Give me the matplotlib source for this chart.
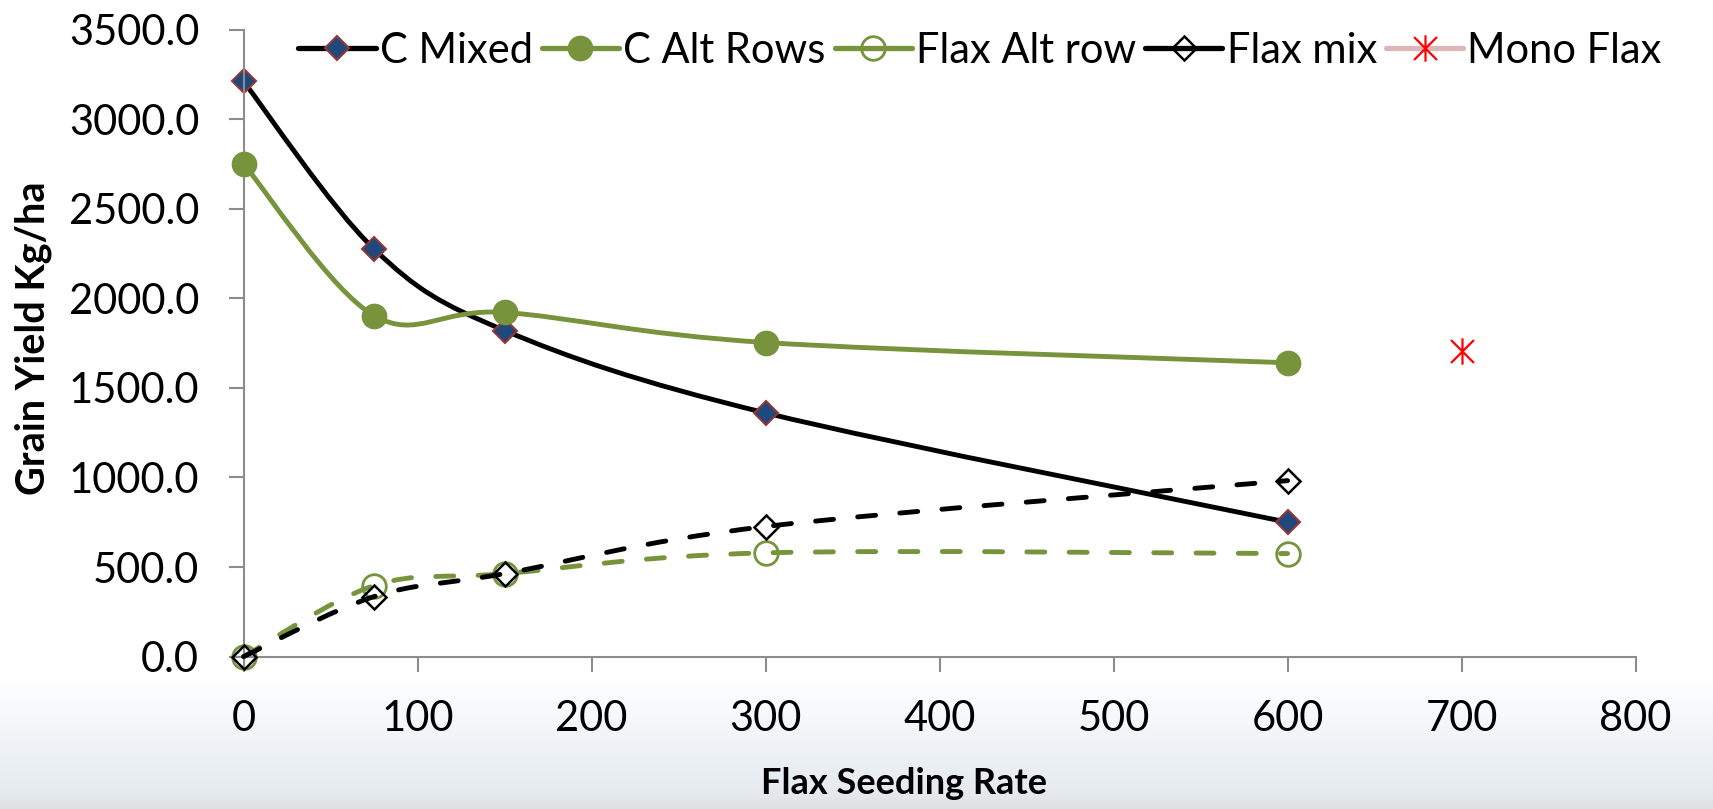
import matplotlib.pyplot as plt
import numpy as np
from matplotlib.path import Path
from matplotlib.patches import PathPatch
from matplotlib.lines import Line2D
from matplotlib.ticker import FormatStrFormatter

plt.rcParams['font.family'] = ['Lato', 'DejaVu Sans']

# seeding rates and yields (kg/ha)
rates = [0, 75, 150, 300, 600]
c_mixed = [3210, 2275, 1820, 1360, 750]
c_alt_rows = [2750, 1903, 1921, 1753, 1640]
flax_alt_row = [0, 396, 463, 579, 575]
flax_mix = [0, 335, 463, 726, 982]
mono_rate = [700]
mono_flax = [1707]

x_ticks = list(range(0, 801, 100))
y_ticks = list(range(0, 3501, 500))

GREEN = '#77933C'
NAVY = '#1F497D'
BROWN = '#953735'


def smooth_path(xs, ys):
    # Catmull-Rom style bezier through the points (same idea as Excel's smoothed line)
    pts = np.column_stack([xs, ys]).astype(float)
    n = len(pts)
    verts = [pts[0]]
    codes = [Path.MOVETO]
    for i in range(n - 1):
        p0 = pts[max(i - 1, 0)]
        p1 = pts[i]
        p2 = pts[i + 1]
        p3 = pts[min(i + 2, n - 1)]
        verts += [p1 + (p2 - p0) / 6.0, p2 - (p3 - p1) / 6.0, p2]
        codes += [Path.CURVE4] * 3
    return Path(verts, codes)


fig = plt.figure(figsize=(17.13, 8.09), dpi=100)

# pale hazy band behind the x axis labels
bg = fig.add_axes([0, 0, 1, 1], zorder=-5)
pos = np.linspace(0, 1, 400)
stops = [0.0, 0.84, 0.93, 0.98, 1.0]
cols = np.array([[1, 1, 1], [1, 1, 1], [0.93, 0.948, 0.967],
                 [0.9, 0.918, 0.936], [0.87, 0.885, 0.895]])
grad = np.stack([np.interp(pos, stops, cols[:, k]) for k in range(3)], axis=1)
bg.imshow(grad[:, None, :], aspect='auto', extent=[0, 1, 0, 1])
bg.axis('off')

ax = fig.add_axes([0.1422, 0.1884, 0.8126, 0.7751])
ax.set_facecolor('none')

dash = (0, (3.7, 5))
series = [
    (c_mixed, 'k', '-', dict(marker='D', ms=12.5, mfc=NAVY, mec=BROWN, mew=1.5)),
    (c_alt_rows, GREEN, '-', dict(marker='o', ms=17, mfc=GREEN, mec=GREEN, mew=1.5)),
    (flax_alt_row, GREEN, dash, dict(marker='o', ms=17, mfc='none', mec=GREEN, mew=2)),
    (flax_mix, 'k', dash, dict(marker='D', ms=12.5, mfc='none', mec='k', mew=1.8)),
]
labels = ['C Mixed', 'C Alt Rows', 'Flax Alt row', 'Flax mix', 'Mono Flax']
handles = []
for z, (vals, col, ls, mk) in enumerate(series):
    patch = PathPatch(smooth_path(rates, vals), fill=False, edgecolor=col,
                      lw=3.5, linestyle=ls, capstyle='round', zorder=2 + z)
    patch.set_clip_on(False)
    ax.add_patch(patch)
    ax.plot(rates, vals, linestyle='none', zorder=2.5 + z, clip_on=False, **mk)
    handles.append(Line2D([], [], color=col, lw=3.8, solid_capstyle='round', **mk))

star = Path([(-1, -1), (1, 1), (-1, 1), (1, -1), (0, -1.15), (0, 1.15)],
            [Path.MOVETO, Path.LINETO, Path.MOVETO, Path.LINETO, Path.MOVETO, Path.LINETO])
ax.plot(mono_rate, mono_flax, linestyle='none', marker=star, ms=19,
        mec='red', mew=1.6, zorder=8, clip_on=False)
handles.append(Line2D([], [], color='#DDB7B7', lw=3.8, solid_capstyle='round',
                      marker=star, ms=19, mec='red', mew=1.6))

ax.set_xlim(0, 800)
ax.set_ylim(0, 3500)
ax.set_xticks(x_ticks)
ax.set_yticks(y_ticks)
ax.yaxis.set_major_formatter(FormatStrFormatter('%.1f'))
for s in ['top', 'right']:
    ax.spines[s].set_visible(False)
for s in ['left', 'bottom']:
    ax.spines[s].set_color('#8C8C8C')
    ax.spines[s].set_linewidth(1.5)
ax.tick_params(axis='both', direction='out', length=11, width=1.5,
               color='#8C8C8C', labelsize=30)
ax.tick_params(axis='x', pad=20)
ax.tick_params(axis='y', pad=21)

fig.text(0.0195, 0.582, 'Grain Yield Kg/ha', rotation=90, fontsize=28.5,
         fontweight='bold', ha='center', va='center')
fig.text(0.528, 0.031, 'Flax Seeding Rate', fontsize=26, fontweight='bold',
         ha='center', va='center')

fig.legend(handles, labels, loc='center left', bbox_to_anchor=(0.1645, 0.937),
           ncol=5, frameon=False, fontsize=30, handlelength=1.85,
           handletextpad=0.1, columnspacing=0.22, borderaxespad=0)

fig.savefig('out.png', dpi=100)
